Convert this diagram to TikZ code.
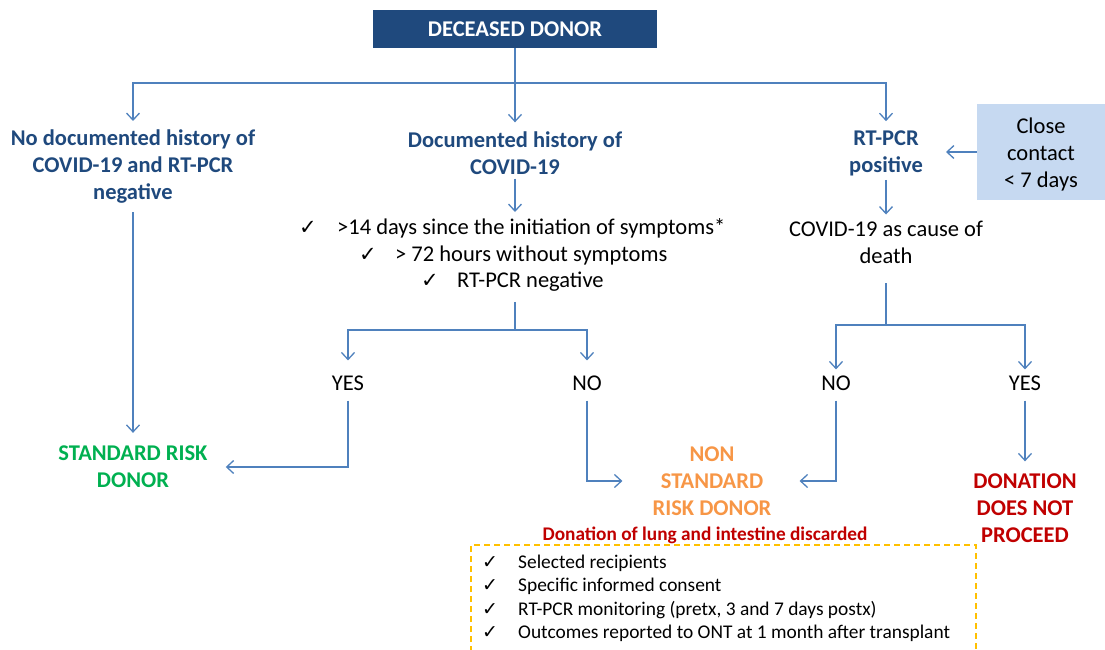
\documentclass[tikz,border=0pt]{standalone}
\usepackage{fontspec}
\setmainfont{Carlito}
\newfontfamily\symf{DejaVu Sans}
\usetikzlibrary{arrows.meta}
\definecolor{lineblue}{RGB}{79,129,189}
\definecolor{navy}{RGB}{31,73,125}
\definecolor{sgreen}{RGB}{0,176,80}
\definecolor{sorange}{RGB}{247,150,70}
\definecolor{sred}{RGB}{192,0,0}
\definecolor{lightblue}{RGB}{198,217,241}
\definecolor{dashyellow}{RGB}{255,192,0}
\newcommand{\ck}{{\symf\fontsize{21}{21}\selectfont ✓}}
\newcommand{\cks}{{\symf\fontsize{19}{19}\selectfont ✓}}
\begin{document}
\begin{tikzpicture}[x=1pt,y=-1pt,
  every node/.style={inner sep=0pt, font=\fontsize{22.5}{27}\selectfont},
  head/.style={align=center, text=navy, font=\bfseries\fontsize{22.5}{27}\selectfont},
  plain/.style={align=center, text=black},
  outcome/.style={align=center, font=\bfseries\fontsize{22.5}{27}\selectfont},
  conn/.style={draw=lineblue, line width=1.3pt},
  arr/.style={conn, -{Straight Barb[length=7pt,width=13pt]}},
  crit/.style={anchor=west, text=black},
]
\useasboundingbox (0,0) rectangle (1105,650);

% nodes
\node[fill=navy, minimum width=284, minimum height=38, text=white,
      font=\bfseries\fontsize{22.5}{27}\selectfont] (dd) at (515,29) {DECEASED DONOR};
\node[head] (nodoc) at (133,167) {No documented history of\\COVID-19 and RT-PCR\\negative};
\node[head] (doc) at (515,153) {Documented history of\\COVID-19};
\node[head] (pos) at (886,153) {RT-PCR\\positive};
\node[fill=lightblue, minimum width=128, minimum height=95] (close) at (1041,152) {};
\node[align=center] (closetxt) at (1041,155) {Close\\contact\\< 7 days};

\node[crit] (c1) at (299,228) {\makebox[38pt][l]{\ck\hspace{1pt}}>14 days since the initiation of symptoms*};
\node[crit] (c2) at (359,255) {\makebox[36pt][l]{\ck}> 72 hours without symptoms};
\node[crit] (c3) at (421,282) {\makebox[36pt][l]{\ck}RT-PCR negative};

\node[plain] (cod) at (886,242) {COVID-19 as cause of\\death};

\node[plain] (yes1) at (348,383) {YES};
\node[plain] (no1) at (587,383) {NO};
\node[plain] (no2) at (836,383) {NO};
\node[plain] (yes2) at (1025,383) {YES};

\node[outcome, text=sgreen] (std) at (133,467) {STANDARD RISK\\DONOR};
\node[outcome, text=sorange] (nsr) at (712,481) {NON\\STANDARD\\RISK DONOR};
\node[outcome, text=sred] (dnp) at (1025,508) {DONATION\\DOES NOT\\PROCEED};

\node[text=sred, font=\bfseries\fontsize{19.3}{22}\selectfont] (disc) at (705,535) {Donation of lung and intestine discarded};
\node[anchor=north west, align=left, font=\fontsize{19.4}{23.3}\selectfont] (cond) at (482,555)
  {\makebox[36pt][l]{\cks}Selected recipients\\
   \makebox[36pt][l]{\cks}Specific informed consent\\
   \makebox[36pt][l]{\cks}RT-PCR monitoring (pretx, 3 and 7 days postx)\\
   \makebox[36pt][l]{\cks}Outcomes reported to ONT at 1 month after transplant};

% dashed frame
\coordinate (fbl) at (471,652);
\coordinate (ftl) at (471,545);
\coordinate (ftr) at (976,545);
\coordinate (fbr) at (976,652);
\draw[dashyellow, line width=1.3pt, dash pattern=on 6pt off 4pt] (fbl) -- (ftl) -- (ftr) -- (fbr);

% connectors
\coordinate (split) at (515,83);
\coordinate (mjoin) at (515,330);
\coordinate (rjoin) at (886,325);
\coordinate (posE) at (946,152);

\draw[conn] (dd.south) -- (split);
\draw[arr, shorten >=9pt] (split) -- (doc.north);
\draw[arr, shorten >=9pt] (split) -| (nodoc.north);
\draw[arr, shorten >=9pt] (split) -| (pos.north);
\draw[arr] (close.west) -- (posE);

\draw[arr, shorten <=8pt, shorten >=13pt] (nodoc.south) -- (std.north);
\draw[arr, shorten <=4pt, shorten >=6pt] (doc.south) -- (doc.south |- c1.north);
\draw[conn, shorten <=10pt] (doc.south |- c3.south) -- (mjoin);
\draw[arr, shorten >=15pt] (mjoin) -| (yes1.north);
\draw[arr, shorten >=15pt] (mjoin) -| (no1.north);
\draw[arr, shorten <=10pt, shorten >=18pt] (yes1.south) |- (std.east);
\draw[arr, shorten <=10pt, shorten >=30pt] (no1.south) |- (nsr.west);

\draw[arr, shorten <=4pt, shorten >=6pt] (pos.south) -- (cod.north);
\draw[conn, shorten <=20pt] (cod.south) -- (rjoin);
\draw[arr, shorten >=6pt] (rjoin) -| (no2.north);
\draw[arr, shorten >=6pt] (rjoin) -| (yes2.north);
\draw[arr, shorten <=10pt, shorten >=28pt] (no2.south) |- (nsr.east);
\draw[arr, shorten <=10pt, shorten >=12pt] (yes2.south) -- (dnp.north);
\end{tikzpicture}
\end{document}
